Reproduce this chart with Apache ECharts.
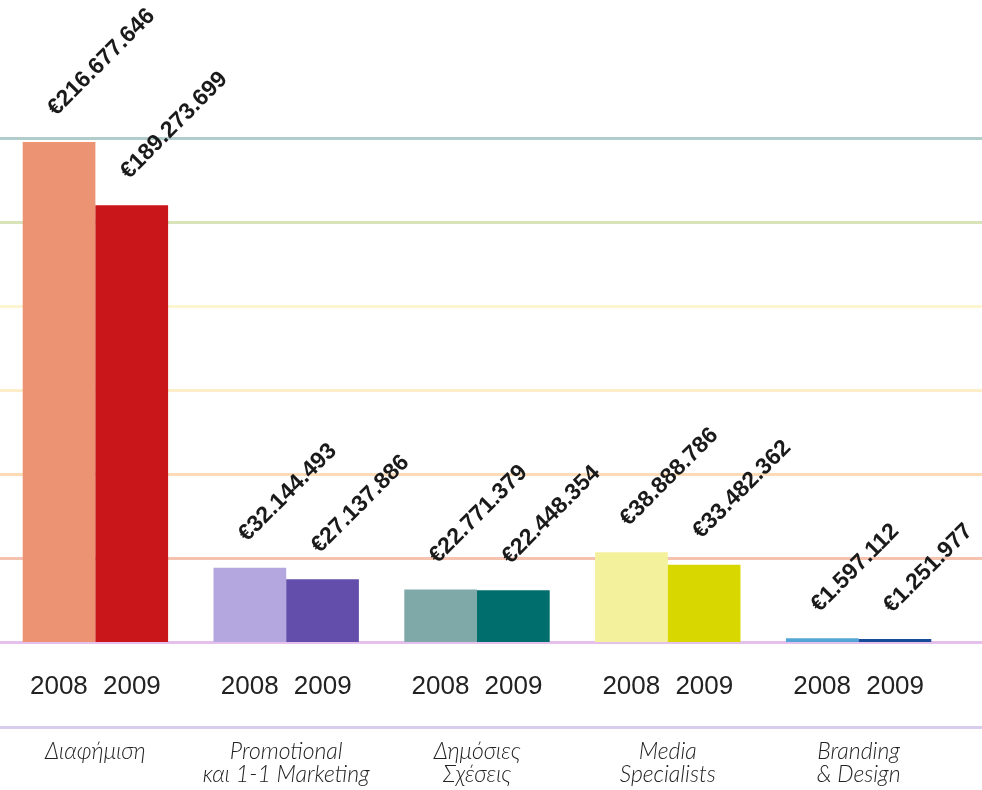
<!DOCTYPE html>
<html><head><meta charset="utf-8">
<script src="https://cdn.jsdelivr.net/npm/echarts@6/dist/echarts.min.js"></script>
<style>html,body{margin:0;padding:0;background:#fff}#c{width:982px;height:790px}</style>
</head><body><div id="c"></div>
<script>
const categories = ['Διαφήμιση', 'Promotional\nκαι 1-1 Marketing', 'Δημόσιες\nΣχέσεις', 'Media\nSpecialists', 'Branding\n& Design'];
const years = ['2008', '2009'];
const values2008 = [216677646, 32144493, 22771379, 38888786, 1597112];
const values2009 = [189273699, 27137886, 22448354, 33482362, 1251977];
const axisMax = 218400000;
const axisInterval = 36400000;

const colors2008 = ['#ec9374', '#b4a7df', '#7fa8a8', '#f4f19c', '#53a6d6'];
const colors2009 = ['#c9161a', '#634fab', '#006e6c', '#d8d800', '#164b9a'];
const gridColors = ['#e6c0ec', '#f6c2b0', '#fddbb6', '#fdedc8', '#fbf6cf', '#d8e4b8', '#b0cccb'];

function fmt(v) {
  return '€' + String(v).replace(/\B(?=(\d{3})+(?!\d))/g, '.');
}
const valueLabel = {
  show: true,
  position: [29, -30],
  rotate: 45,
  align: 'left',
  verticalAlign: 'middle',
  fontFamily: "'Liberation Sans Narrow', 'Liberation Sans', sans-serif",
  fontWeight: 'bold',
  fontSize: 23,
  color: '#1a1a1a',
  formatter: p => fmt(p.value)
};

const chart = echarts.init(document.getElementById('c'), null, {renderer: 'canvas'});
chart.setOption({
  animation: false,
  grid: [
    {left: 0, right: 0, top: 138, bottom: 148},
    {left: -4, width: 958, top: 138, bottom: 148}
  ],
  xAxis: [
    {gridIndex: 0, type: 'category', data: [''], offset: 85,
     axisLine: {show: true, onZero: false, lineStyle: {color: '#d9cdee', width: 3}},
     axisTick: {show: false}, axisLabel: {show: false}, splitLine: {show: false}},
    {gridIndex: 1, type: 'category', data: categories,
     axisLine: {show: false}, axisTick: {show: false},
     axisLabel: {
       margin: 25,
       verticalAlign: 'top',
       formatter: (name) => {
         const lines = name.split('\n').map(s => '{c|' + s + '}');
         return '{y|' + years[0] + '}{y|' + years[1] + '}\n{sp| }\n' + lines.join('\n');
       },
       rich: {
         y: {width: 73, align: 'center', lineHeight: 40, fontSize: 26, color: '#222',
             fontFamily: "'Liberation Sans Narrow', 'Liberation Sans', sans-serif"},
         sp: {lineHeight: 33.5, fontSize: 10},
         c: {align: 'center', lineHeight: 23, fontSize: 23, fontStyle: 'italic', color: '#222',
             fontFamily: "Lato, 'Open Sans', sans-serif", fontWeight: 300}
       }
     }}
  ],
  yAxis: [
    {gridIndex: 0, type: 'value', min: 0, max: axisMax, interval: axisInterval,
     axisLine: {show: false}, axisTick: {show: false}, axisLabel: {show: false},
     splitLine: {show: true, lineStyle: {color: gridColors, width: 3}}},
    {gridIndex: 1, type: 'value', min: 0, max: axisMax, interval: axisInterval,
     axisLine: {show: false}, axisTick: {show: false}, axisLabel: {show: false},
     splitLine: {show: false}}
  ],
  series: [
    {name: years[0], type: 'bar', xAxisIndex: 1, yAxisIndex: 1, barGap: 0, barCategoryGap: '23.8%',
     data: values2008.map((v, i) => ({value: v, itemStyle: {color: colors2008[i]}})),
     label: valueLabel},
    {name: years[1], type: 'bar', xAxisIndex: 1, yAxisIndex: 1, barGap: 0, barCategoryGap: '23.8%',
     data: values2009.map((v, i) => ({value: v, itemStyle: {color: colors2009[i]}})),
     label: valueLabel}
  ]
});
</script></body></html>
